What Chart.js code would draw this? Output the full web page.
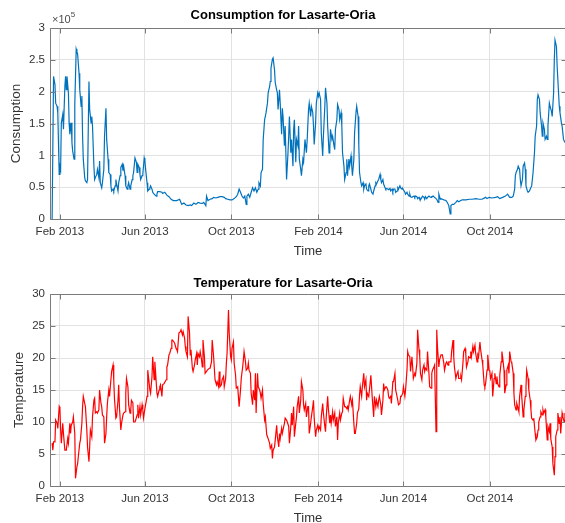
<!DOCTYPE html>
<html>
<head>
<meta charset="utf-8">
<script src="https://cdn.jsdelivr.net/npm/chart.js@4"></script>
<style>
  html, body { margin: 0; padding: 0; background: #fff; overflow: hidden; width: 565px; height: 523px; }
  canvas { position: absolute; left: 0; }
  #consumptionChart { top: 0; }
  #temperatureChart { top: 262px; }
</style>
</head>
<body>
<canvas id="consumptionChart" width="572" height="262"></canvas>
<canvas id="temperatureChart" width="572" height="268"></canvas>
<script>
// day numbers are days since 1 Jan 2013
const tickDays = [31, 151, 273, 396, 516, 638];
const tickLabels = ['Feb 2013', 'Jun 2013', 'Oct 2013', 'Feb 2014', 'Jun 2014', 'Oct 2014'];

// consumption, in units of 10^5
const consDays = [
  20, 22, 24, 25, 27, 28, 30, 31, 32, 33, 35, 36, 38, 39, 40, 41, 43, 44, 45, 47,
  48, 49, 51, 52, 54, 55, 56, 58, 59, 61, 62, 63, 64, 66, 67, 69, 70, 72, 73, 75,
  76, 77, 79, 80, 81, 83, 84, 86, 87, 88, 90, 91, 93, 94, 96, 97, 99, 100, 102, 103,
  104, 106, 107, 109, 110, 111, 113, 114, 116, 117, 119, 120, 121, 123, 124, 126, 127, 128, 130, 131,
  133, 134, 135, 137, 139, 140, 141, 143, 144, 145, 147, 148, 150, 151, 152, 154, 155, 157, 158, 159,
  161, 162, 164, 167, 168, 169, 172, 175, 176, 179, 182, 185, 188, 191, 193, 196, 200,
  203, 206, 209, 212, 215, 217, 220, 223, 226, 229, 232, 234, 237, 238, 240, 243, 246, 248, 251,
  254, 257, 260, 263, 265, 268, 271, 274, 277, 280, 282, 284, 286, 288, 290, 292, 294, 295, 297, 299,
  301, 303, 305, 307, 309, 311, 312, 314, 315, 317, 318, 320, 321, 322, 324, 325, 327, 328, 329, 331,
  332, 334, 335, 337, 338, 339, 341, 342, 344, 345, 346, 348, 349, 351, 353, 354, 355, 357, 358, 360,
  361, 362, 364, 365, 367, 368, 369, 371, 372, 374, 375, 377, 379, 380, 382, 383, 385, 386, 388, 389,
  390, 392, 393, 395, 396, 397, 399, 400, 402, 403, 405, 406, 408, 409, 411, 412, 413, 415, 416, 418,
  419, 420, 422, 423, 425, 426, 428, 429, 430, 432, 433, 435, 436, 437, 439, 440, 442, 443, 444, 446,
  447, 449, 450, 452, 453, 454, 456, 457, 459, 460, 461, 463, 464, 466, 467, 468, 470, 471, 473, 474,
  476, 477, 478, 480, 481, 483, 484, 485, 487, 488, 490, 491, 492, 494, 495, 497, 498, 500, 501, 502,
  504, 505, 507, 508, 509, 511, 512, 514, 515, 516, 518, 519, 521, 522, 524, 525, 526, 528, 529, 531,
  532, 533, 535, 536, 538, 539, 540, 542, 543, 545, 546, 547, 549, 550, 552, 553, 555, 556, 558,
  560, 563, 565, 566, 568, 569, 571, 573, 576, 578, 580, 582, 583, 585, 587, 590, 592, 594, 597, 599,
  604, 609, 613, 618, 623, 627, 632, 634, 637, 641, 646, 649, 652, 656, 660, 663, 666, 669, 671, 673,
  674, 675, 677, 678, 680, 681, 682, 684, 685, 687, 688, 689, 691, 692, 694, 695, 697, 698, 699, 701,
  702, 704, 705, 706, 708, 709, 711, 712, 713, 715, 716, 718, 719, 720, 722, 723, 725, 726, 728, 729,
  730, 732, 733, 735, 736, 737, 739, 740, 742, 744
];
const consValues = [
  0, 2.24, 2.11, 1.82, 1.77, 1.67, 0.70, 0.83, 0.78, 1.51, 1.64, 1.41, 2.08, 2.24, 2.03, 2.24, 1.98, 1.51, 1.33, 1.51,
  1.20, 1.07, 0.94, 1.80, 2.67, 2.63, 2.59, 2.29, 2.03, 1.77, 1.93, 1.30, 0.94, 0.65, 0.60, 0.57, 0.62, 2.16, 1.72, 1.51,
  1.61, 1.46, 0.83, 0.62, 0.65, 0.70, 0.78, 0.65, 0.91, 0.57, 0.49, 0.57, 0.78, 1.30, 1.74, 1.25, 0.94, 0.73, 0.70, 0.52,
  0.44, 0.47, 0.44, 0.52, 0.62, 0.55, 0.44, 0.57, 0.68, 0.81, 0.86, 0.76, 0.83, 0.68, 0.52, 0.47, 0.52, 0.57, 0.47, 0.52,
  0.62, 0.68, 0.73, 0.96, 0.89, 0.73, 0.86, 0.81, 0.70, 0.62, 0.68, 0.70, 0.96, 0.91, 0.78, 0.57, 0.44, 0.47, 0.49, 0.52,
  0.47, 0.42, 0.39, 0.36, 0.39, 0.43, 0.43, 0.42, 0.40, 0.42, 0.375, 0.35, 0.31, 0.29, 0.29, 0.29, 0.31,
  0.23, 0.25, 0.22, 0.21, 0.22, 0.21, 0.25, 0.23, 0.26, 0.25, 0.245, 0.26, 0.21, 0.36, 0.29, 0.31, 0.32, 0.34, 0.33,
  0.34, 0.35, 0.35, 0.34, 0.32, 0.31, 0.30, 0.30, 0.32, 0.35, 0.39, 0.47, 0.42, 0.36, 0.33, 0.36, 0.23, 0.36, 0.39, 0.34,
  0.42, 0.49, 0.44, 0.49, 0.42, 0.47, 0.57, 0.52, 0.73, 0.78, 1.25, 1.56, 1.61, 1.67, 1.82, 1.98, 2.08, 2.16, 2.37, 2.51,
  2.53, 2.34, 2.14, 2.03, 1.98, 1.72, 2.03, 1.82, 1.33, 1.74, 1.61, 1.15, 1.46, 0.62, 1.04, 1.30, 1.61, 1.04, 1.25, 0.83,
  1.41, 1.56, 0.89, 1.25, 1.15, 1.46, 0.94, 0.78, 0.68, 0.94, 0.89, 1.25, 1.04, 1.22, 1.72, 1.82, 1.61, 1.77, 1.67, 1.46,
  1.17, 1.51, 1.82, 1.98, 1.93, 1.98, 1.88, 1.35, 0.99, 1.30, 1.77, 2.06, 1.82, 1.46, 1.04, 1.09, 1.41, 1.25, 1.30, 1.15,
  1.09, 1.41, 1.56, 1.80, 1.72, 1.56, 1.67, 1.46, 1.04, 0.83, 0.62, 0.73, 0.94, 0.68, 0.94, 0.83, 0.99, 0.83, 0.68, 0.94,
  1.35, 1.67, 1.77, 1.61, 1.15, 0.73, 0.57, 0.52, 0.57, 0.47, 0.52, 0.55, 0.47, 0.44, 0.52, 0.55, 0.47, 0.42, 0.39, 0.44,
  0.52, 0.57, 0.55, 0.60, 0.62, 0.70, 0.62, 0.57, 0.62, 0.55, 0.49, 0.47, 0.48, 0.47, 0.46, 0.48, 0.44, 0.47, 0.43, 0.47,
  0.47, 0.42, 0.44, 0.49, 0.47, 0.52, 0.49, 0.47, 0.48, 0.46, 0.42, 0.39, 0.42, 0.39, 0.36, 0.39, 0.35, 0.34, 0.35, 0.36,
  0.34, 0.36, 0.35, 0.32, 0.34, 0.31, 0.30, 0.34, 0.36, 0.34, 0.31, 0.35, 0.32, 0.34, 0.36, 0.35, 0.34, 0.35, 0.36,
  0.34, 0.31, 0.26, 0.39, 0.31, 0.32, 0.31, 0.30, 0.29, 0.26, 0.21, 0.08, 0.21, 0.23, 0.23, 0.26, 0.29, 0.27, 0.29, 0.30,
  0.30, 0.31, 0.31, 0.32, 0.31, 0.31, 0.34, 0.32, 0.34, 0.33, 0.34, 0.35, 0.32, 0.34, 0.36, 0.39, 0.34, 0.34, 0.36, 0.47,
  0.68, 0.73, 0.78, 0.83, 0.78, 0.62, 0.52, 0.62, 0.83, 0.88, 0.78, 0.52, 0.44, 0.42, 0.44, 0.47, 0.52, 0.62, 0.73, 1.04,
  1.30, 1.46, 1.88, 1.95, 1.88, 1.67, 1.46, 1.30, 1.51, 1.41, 1.25, 1.30, 1.25, 1.46, 1.82, 1.77, 1.69, 1.61, 1.98, 2.50,
  2.81, 2.71, 2.40, 1.98, 1.77, 1.67, 1.51, 1.46, 1.25, 1.20
];

// temperature
const tempDays = [
  20, 21, 22, 24, 25, 27, 28, 30, 31, 32, 33, 35, 36, 38, 39, 40, 42, 43, 45, 46,
  47, 49, 50, 52, 53, 55, 56, 57, 59, 60, 62, 63, 64, 66, 67, 69, 70, 72, 73, 74,
  76, 77, 79, 80, 81, 83, 84, 86, 87, 89, 90, 91, 93, 94, 96, 97, 98, 100, 101, 103,
  104, 106, 107, 108, 110, 111, 113, 114, 115, 117, 118, 120, 121, 123, 124, 125, 127, 128, 130, 131,
  132, 134, 135, 137, 138, 140, 141, 142, 144, 145, 147, 148, 149, 151, 152, 154, 155, 156, 158, 159,
  161, 162, 164, 165, 166, 168, 169, 171, 172, 173, 175, 176, 178, 179, 181, 182, 183, 185, 186, 188,
  189, 190, 192, 193, 195, 196, 197, 199, 201,
  202, 204, 205, 207, 208, 209, 211, 212, 214, 215, 216, 218, 219, 221, 222, 224, 225, 226, 228, 229,
  231, 232, 233, 235, 236, 238, 239, 240, 242, 243, 245, 246, 248, 249, 250, 252, 253, 255, 256, 257,
  259, 260, 262, 263, 265, 266, 267, 269, 270, 272, 273, 274, 276, 277, 279, 280, 282, 283, 284, 286,
  287, 289, 290, 291, 293, 294, 296, 297, 298, 300, 301, 303, 304, 306, 307, 308, 310, 311, 313, 314,
  315, 317, 318, 320, 321, 323, 324, 325, 327, 328, 330, 331, 332, 334, 335, 337, 338, 340, 341, 342,
  344, 345, 347, 348, 349, 351, 352, 354, 355, 357, 358, 359, 361, 362, 364, 365, 366, 368, 369, 371,
  372, 374, 375, 376, 378, 379, 381,
  382, 383, 385, 386, 388, 389, 390, 392, 393, 395, 396, 397, 399, 400, 402, 403, 405, 406, 407, 409,
  410, 412, 413, 414, 416, 417, 419, 420, 422, 423, 424, 426, 427, 429, 430, 431, 433, 434, 436, 437,
  438, 440, 441, 443, 444, 446, 447, 448, 450, 451, 453, 454, 455, 457, 458, 460, 461, 463, 464, 465,
  467, 468, 470, 471, 472, 474, 475, 477, 478, 480, 481, 482, 484, 485, 487, 488, 489, 491, 492, 494,
  495, 496, 498, 499, 501, 502, 504, 505, 506, 508, 509, 511, 512, 513, 515, 516, 518, 519, 521, 522,
  523, 525, 526, 528, 529, 530, 532, 533, 535, 536, 538, 539, 540, 542, 543, 545, 546, 547, 549, 550,
  552, 553, 555, 556, 557, 559, 560,
  562, 563, 564, 566, 567, 569, 571, 573, 574, 576, 577, 579, 580, 583, 584, 586, 587, 588, 590, 591,
  593, 594, 596, 597, 598, 600, 601, 603, 604, 605, 607, 608, 610, 611, 612, 614, 615, 617, 618, 620,
  621, 622, 624, 625, 627, 628, 630, 631, 632, 634, 635, 637, 638, 639, 641, 642, 644, 645, 647, 648,
  649, 651, 652, 654, 655, 656, 658, 659, 661, 662, 664, 665, 666, 668, 669, 671, 672, 673, 675, 676,
  678, 679, 680, 682, 683, 685, 686, 688, 689, 690, 692, 693, 695, 696, 697, 699, 700, 702, 703, 705,
  706, 707, 709, 710, 712, 713, 714, 716, 717, 719, 720, 722, 723, 724, 726, 727, 729, 730, 731, 733,
  734, 736, 737, 738, 740, 741, 743, 744
];
const tempValues = [
  6.7, 5.6, 6.9, 6.9, 10.3, 9.8, 9.0, 12.4, 12.1, 8.75, 6.7, 9.8, 8.2, 5.6, 5.6, 5.6, 7.4, 6.7, 9.8, 8.2,
  9.5, 10.0, 10.8, 8.2, 1.2, 3.0, 3.5, 4.6, 6.7, 7.2, 9.8, 12.4, 14.0, 12.9, 12.4, 8.75, 6.1, 3.8, 6.1, 8.75,
  7.7, 10.8, 13.4, 13.7, 11.4, 11.6, 11.4, 11.9, 15.0, 12.9, 12.4, 11.1, 10.8, 6.7, 8.2, 10.8, 12.9, 15.0, 14.0, 16.6,
  17.9, 18.9, 16.6, 13.7, 10.6, 10.8, 13.4, 15.8, 12.4, 8.75, 9.8, 11.1, 11.4, 11.6, 14.5, 16.8, 15.5, 12.7, 11.4, 11.9,
  13.4, 13.0, 10.0, 10.0, 10.3, 11.1, 12.7, 10.6, 12.4, 11.1, 12.7, 11.9, 10.6, 12.1, 12.7, 14.0, 18.1, 17.1, 15.0, 14.5,
  17.1, 20.2, 16.6, 19.4, 17.9, 14.5, 14.0, 15.0, 15.5, 15.8, 14.0, 15.8, 16.0, 16.0, 16.6, 18.6, 18.9, 20.5, 20.7, 21.5,
  22.8, 22.8, 22.5, 22.3, 21.5, 21.3, 21.0, 23.9, 24.1,
  24.4, 23.6, 24.1, 23.1, 21.8, 21.0, 20.2, 26.5, 23.9, 20.5, 21.3, 18.4, 17.9, 18.9, 19.7, 20.7, 18.9, 20.7, 20.2, 21.0,
  19.7, 18.6, 22.8, 20.2, 17.6, 17.9, 18.1, 18.1, 18.4, 18.4, 19.4, 22.8, 20.2, 18.4, 16.6, 15.8, 16.3, 15.5, 17.9, 15.5,
  15.8, 16.6, 17.1, 15.5, 16.8, 19.2, 20.7, 27.5, 23.9, 20.2, 19.7, 21.5, 22.5, 19.2, 17.3, 15.3, 15.5, 14.0, 12.4, 15.0,
  16.8, 18.6, 19.7, 21.0, 19.4, 18.1, 18.4, 19.2, 18.1, 17.6, 14.5, 12.7, 15.0, 13.4, 17.6, 11.4, 17.6, 15.5, 15.0, 14.5,
  13.7, 15.0, 12.9, 10.3, 10.8, 8.0, 7.7, 7.4, 6.7, 5.9, 6.4, 4.3, 5.6, 6.1, 7.2, 9.5, 7.7, 6.1, 8.2, 7.4,
  9.0, 8.2, 9.3, 9.8, 10.6, 10.3, 10.0, 9.3, 6.7, 9.3, 11.4, 9.5, 12.4, 7.7, 9.8, 10.8, 12.4, 14.0, 11.4, 13.4,
  16.3, 15.0, 12.7, 11.9, 12.9, 10.8, 12.4,
  12.4, 8.2, 9.8, 10.8, 12.4, 13.4, 10.6, 7.7, 8.75, 9.5, 8.75, 9.3, 8.75, 10.8, 12.9, 11.4, 9.3, 8.5, 10.8, 14.0,
  12.1, 9.8, 11.1, 9.8, 11.6, 10.3, 11.4, 9.3, 10.8, 7.2, 9.8, 11.4, 10.3, 11.4, 11.6, 13.7, 12.4, 12.4, 12.1, 12.4,
  11.9, 13.4, 14.0, 12.7, 13.4, 9.8, 8.2, 8.2, 9.8, 11.4, 12.1, 14.2, 15.5, 14.0, 15.5, 17.6, 15.5, 16.6, 13.4, 14.5,
  14.0, 15.0, 17.3, 15.5, 13.7, 10.8, 14.0, 12.4, 13.4, 12.4, 13.4, 14.0, 12.7, 11.1, 13.4, 16.0, 15.0, 15.5, 15.5, 15.0,
  14.0, 13.7, 14.0, 12.9, 16.3, 16.3, 17.6, 15.0, 14.5, 13.4, 12.7, 12.9, 14.0, 14.0, 14.5, 15.5, 14.0, 15.0, 18.1, 21.0,
  20.5, 20.2, 17.9, 20.2, 18.6, 16.8, 17.6, 17.3, 19.2, 24.4, 21.3, 20.2, 17.6, 16.6, 18.1, 18.9, 17.9, 18.4, 18.1, 21.0,
  17.6, 15.5, 15.3, 17.6, 18.1, 18.6, 18.9,
  8.5, 24.4, 21.8, 18.6, 19.7, 20.5, 20.5, 19.2, 18.1, 19.2, 19.4, 18.9, 19.4, 19.4, 21.0, 22.8, 20.2, 18.6, 16.8, 17.3,
  17.9, 16.8, 16.8, 17.1, 16.6, 19.2, 21.0, 21.5, 20.7, 18.6, 19.4, 20.2, 20.0, 21.0, 20.2, 21.8, 21.0, 22.0, 20.7, 19.4,
  20.5, 20.2, 22.5, 21.3, 19.7, 18.9, 15.8, 15.5, 16.0, 18.1, 20.5, 18.1, 17.9, 16.8, 17.6, 14.0, 16.8, 17.6, 16.0, 17.1,
  16.0, 15.5, 17.3, 19.4, 21.0, 20.2, 18.1, 14.5, 15.8, 18.1, 18.9, 17.6, 21.0, 19.4, 19.2, 17.6, 14.5, 12.7, 11.9, 12.9,
  12.1, 11.6, 14.0, 15.8, 14.0, 10.8, 11.9, 14.0, 15.5, 18.1, 16.8, 15.0, 13.4, 11.9, 10.6, 10.3, 10.6, 8.2, 7.2, 7.7,
  8.75, 10.0, 10.8, 11.6, 11.1, 11.9, 11.4, 11.9, 10.8, 7.2, 9.3, 8.5, 9.8, 7.4, 6.1, 3.5, 1.7, 4.6, 7.7, 8.75,
  11.4, 9.8, 10.8, 8.2, 11.4, 10.8, 10.0, 11.4
];

Chart.defaults.font.family = '"Liberation Sans", Arial, Helvetica, sans-serif';
Chart.defaults.color = '#333';

// MATLAB-like axes box, inward ticks and the x10^5 exponent
const matlabBox = {
    id: 'matlabBox',
    afterDraw(chart, args, opts) {
        const ctx = chart.ctx;
        const a = chart.chartArea;
        const x = chart.scales.x, y = chart.scales.y;
        const L = Math.round(a.left) + 0.5, T = Math.round(a.top) + 0.5;
        const R = Math.round(a.right) + 0.5, B = Math.round(a.bottom) + 0.5;
        ctx.save();
        ctx.strokeStyle = '#7a7a7a';
        ctx.lineWidth = 1;
        ctx.beginPath();
        ctx.rect(L, T, R - L, B - T);
        x.ticks.forEach(t => {
            const px = Math.round(x.getPixelForValue(t.value)) + 0.5;
            ctx.moveTo(px, B); ctx.lineTo(px, B - 5);
            ctx.moveTo(px, T); ctx.lineTo(px, T + 5);
        });
        y.ticks.forEach(t => {
            const py = Math.round(y.getPixelForValue(t.value)) + 0.5;
            ctx.moveTo(L, py); ctx.lineTo(L + 5, py);
            ctx.moveTo(R, py); ctx.lineTo(R - 5, py);
        });
        ctx.stroke();
        if (opts.exponent) {
            ctx.fillStyle = '#4d4d4d';
            ctx.textBaseline = 'middle';
            ctx.font = '11px "Liberation Sans", Arial, sans-serif';
            ctx.fillText('\u00d710', a.left + 2, a.top - 8.5);
            const w = ctx.measureText('\u00d710').width;
            ctx.font = '8px "Liberation Sans", Arial, sans-serif';
            ctx.fillText(opts.exponent, a.left + 2 + w, a.top - 13);
        }
        ctx.restore();
    }
};

function makeChart(id, cfg) {
    const data = cfg.days.map((d, i) => ({x: d, y: cfg.values[i]}));
    return new Chart(document.getElementById(id), {
        type: 'line',
        data: {
            datasets: [{
                data: data,
                borderColor: cfg.color,
                borderWidth: 1.2,
                pointRadius: 0,
                tension: 0
            }]
        },
        plugins: [matlabBox],
        options: {
            responsive: false,
            animation: false,
            events: [],
            layout: { padding: { left: 0, right: 6, top: 0, bottom: cfg.padBottom } },
            plugins: {
                legend: { display: false },
                tooltip: { enabled: false },
                title: {
                    display: true,
                    text: cfg.title,
                    color: '#000',
                    font: { size: 13, weight: 'bold' },
                    padding: { top: cfg.titleTop, bottom: cfg.titleBottom }
                },
                matlabBox: { exponent: cfg.exponent }
            },
            scales: {
                x: {
                    type: 'linear',
                    min: 17,
                    max: 745.5,
                    afterBuildTicks: s => { s.ticks = tickDays.map(v => ({value: v})); },
                    afterFit: s => { s.height = cfg.xHeight; },
                    ticks: {
                        padding: 6,
                        maxRotation: 0,
                        autoSkip: false,
                        color: '#333',
                        font: { size: 11.5 },
                        callback: v => tickLabels[tickDays.indexOf(v)]
                    },
                    grid: { color: '#e2e2e2', drawTicks: false },
                    border: { display: false },
                    title: {
                        display: true,
                        text: 'Time',
                        color: '#333',
                        font: { size: 13 },
                        padding: { top: 0, bottom: cfg.timeBottom }
                    }
                },
                y: {
                    min: cfg.yMin,
                    max: cfg.yMax,
                    afterFit: s => { s.width = 50; },
                    ticks: {
                        stepSize: cfg.yStep,
                        padding: 5,
                        color: '#333',
                        font: { size: 11.5 },
                        callback: v => String(Math.round(v * 10) / 10)
                    },
                    grid: { color: '#e2e2e2', drawTicks: false },
                    border: { display: false },
                    title: {
                        display: true,
                        text: cfg.yLabel,
                        color: '#333',
                        font: { size: 13.5 },
                        padding: { top: cfg.yLabelPad, bottom: 0 }
                    }
                }
            }
        }
    });
}

makeChart('consumptionChart', {
    days: consDays, values: consValues, color: '#0072bd',
    title: 'Consumption for Lasarte-Oria', yLabel: 'Consumption',
    yMin: 0, yMax: 3, yStep: 0.5, exponent: '5',
    titleTop: 7.2, titleBottom: 5.2, xHeight: 43, timeBottom: 3.2, padBottom: 0, yLabelPad: 8.6
});

makeChart('temperatureChart', {
    days: tempDays, values: tempValues, color: '#ff0000',
    title: 'Temperature for Lasarte-Oria', yLabel: 'Temperature',
    yMin: 0, yMax: 30, yStep: 5, exponent: null,
    titleTop: 13.2, titleBottom: 3.2, xHeight: 39.8, timeBottom: 0, padBottom: 4.2, yLabelPad: 11.4
});
</script>
</body>
</html>
